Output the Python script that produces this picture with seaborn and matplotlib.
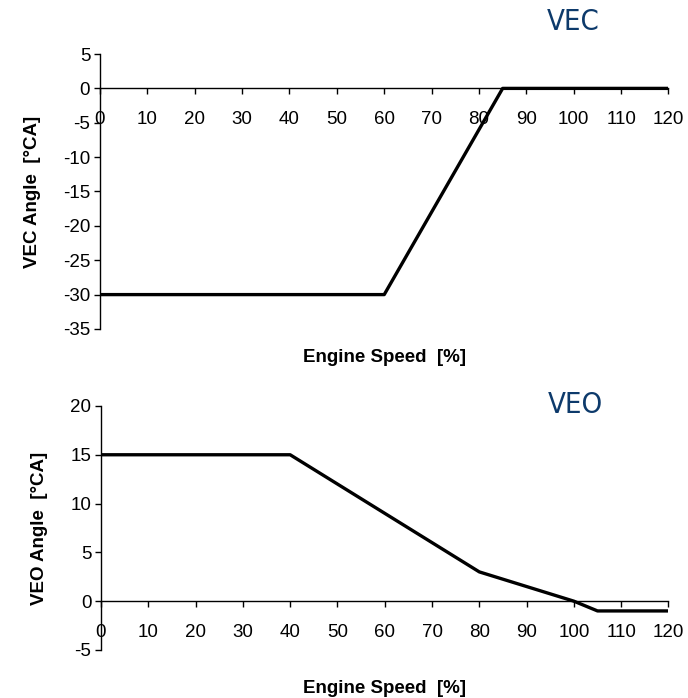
import matplotlib
matplotlib.use("Agg")
import matplotlib.pyplot as plt
import seaborn as sns
import pandas as pd

# Data
vec_speed = [0, 60, 85, 120]
vec_angle = [-30, -30, 0, 0]
veo_speed = [0, 40, 80, 100, 105, 120]
veo_angle = [15, 15, 3, 0, -1, -1]
x_ticks = [0, 10, 20, 30, 40, 50, 60, 70, 80, 90, 100, 110, 120]
vec_yticks = [5, 0, -5, -10, -15, -20, -25, -30, -35]
veo_yticks = [20, 15, 10, 5, 0, -5]

sns.set_style("ticks")
plt.rcParams['font.family'] = ['Liberation Sans', 'DejaVu Sans']
plt.rcParams['axes.unicode_minus'] = False
plt.rcParams['text.color'] = 'black'
plt.rcParams['axes.labelcolor'] = 'black'
plt.rcParams['xtick.color'] = 'black'
plt.rcParams['ytick.color'] = 'black'

fig = plt.figure(figsize=(6.88, 6.98), dpi=100)
ax1 = fig.add_axes([0.1453, 0.5287, 0.8263, 0.3939])
ax2 = fig.add_axes([0.1468, 0.0688, 0.8248, 0.3496])

df1 = pd.DataFrame({"speed": vec_speed, "angle": vec_angle})
df2 = pd.DataFrame({"speed": veo_speed, "angle": veo_angle})

sns.lineplot(data=df1, x="speed", y="angle", ax=ax1, color="black", linewidth=2.4)
sns.lineplot(data=df2, x="speed", y="angle", ax=ax2, color="black", linewidth=2.4)

specs = [
    (ax1, vec_yticks, (-35, 5), "VEC Angle  [°CA]", -0.118, -0.102),
    (ax2, veo_yticks, (-5, 20), "VEO Angle  [°CA]", -0.1075, -0.156),
]
for ax, yt, ylim, ylab, ylx, xly in specs:
    ax.set_xlim(0, 120)
    ax.set_ylim(*ylim)
    ax.set_xticks(x_ticks)
    ax.set_yticks(yt)
    for s in ["top", "right"]:
        ax.spines[s].set_visible(False)
    ax.spines["bottom"].set_position(("data", 0))
    ax.spines["bottom"].set_color("black")
    ax.spines["left"].set_color("black")
    ax.spines["bottom"].set_linewidth(1.0)
    ax.spines["left"].set_linewidth(1.0)
    ax.tick_params(axis="x", which="major", direction="out", length=4.5, width=1,
                   colors="black", labelcolor="black", pad=12, labelsize=13.5)
    ax.tick_params(axis="y", direction="out", length=4, width=1, colors="black",
                   labelcolor="black", pad=3, labelsize=13.5)
    ax.set_xlabel("Engine Speed  [%]", fontsize=13.5, fontweight="bold", va="center",
                  color="black")
    ax.set_ylabel(ylab, fontsize=13.5, fontweight="bold", va="center", color="black")
    ax.xaxis.set_label_coords(0.5, xly)
    ax.yaxis.set_label_coords(ylx, 0.5)

fig.text(573 / 688, 1 - 22 / 698, "VEC", ha="center", va="center", fontsize=21,
         color="#0d3a6b", family="DejaVu Sans", stretch="condensed", weight="normal")
fig.text(575 / 688, 1 - 405 / 698, "VEO", ha="center", va="center", fontsize=21,
         color="#0d3a6b", family="DejaVu Sans", stretch="condensed", weight="normal")

fig.savefig("out.png", dpi=100)
